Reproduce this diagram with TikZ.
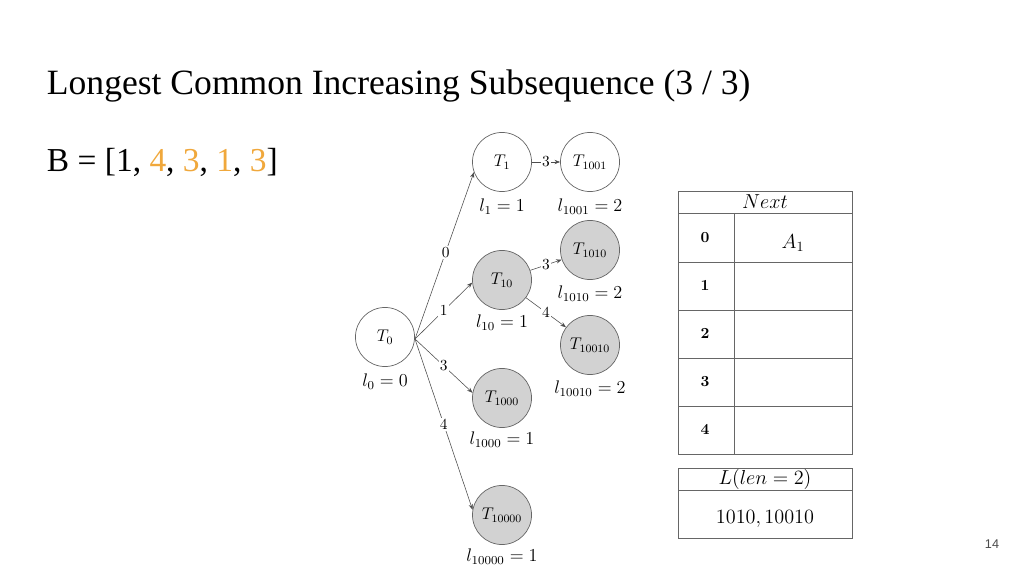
\documentclass[tikz,border=0pt]{standalone}
\usepackage{amsmath}
\usepackage[no-math]{fontspec}
\setmainfont{Liberation Serif}
\newfontfamily\pagefont{Liberation Sans}
\usepackage{xcolor}
\usetikzlibrary{arrows.meta,positioning}

\definecolor{hl}{HTML}{F0A83C}
\definecolor{trie}{HTML}{D2D2D2}

\begin{document}
\begin{tikzpicture}[
    x=0.025cm, y=-0.025cm,
    state/.style={circle, draw=black!60, line width=0.5pt, minimum size=42pt, inner sep=0pt, font=\fontsize{12}{14}\selectfont},
    live/.style={state, fill=trie},
    lenlbl/.style={scale=1.08, font=\fontsize{12}{14}\selectfont},
    edge/.style={draw=black!70, line width=0.4pt, -{Stealth[length=4pt,width=3pt]}},
    elbl/.style={fill=white, inner sep=1pt, font=\fontsize{10.95}{13}\selectfont},
    cell/.style={font=\fontsize{14.4}{16}\selectfont},
    keycell/.style={font=\fontsize{10.95}{13}\selectfont},
    grid/.style={draw=black!60, line width=0.5pt}
]
    \useasboundingbox (0,0) rectangle (1024,576);

    % Heading
    \node[anchor=base west, font=\fontsize{25.3}{29}\selectfont] (title) at (42,95) {Longest Common Increasing Subsequence (3 / 3)};
    \node[anchor=base west, font=\fontsize{23.8}{28}\selectfont] (seq) at (42,172)
        {B = [1, \textcolor{hl}{4}, \textcolor{hl}{3}, \textcolor{hl}{1}, \textcolor{hl}{3}]};

    % Trie nodes
    \node[state] (t0) at (385,337) {$T_0$};
    \node[state] (t1) at (502,162) {$T_1$};
    \node[state] (t1001) at (590,162) {$T_{1001}$};
    \node[live] (t10) at (502,280) {$T_{10}$};
    \node[live] (t1010) at (590,250) {$T_{1010}$};
    \node[live] (t10010) at (590,345) {$T_{10010}$};
    \node[live] (t1000) at (502,398) {$T_{1000}$};
    \node[live] (t10000) at (502,515) {$T_{10000}$};

    % Lengths
    \node[lenlbl] (l0) at (385,382) {$l_0 = 0$};
    \node[lenlbl] (l1) at (502,207) {$l_1 = 1$};
    \node[lenlbl] (l1001) at (590,207) {$l_{1001} = 2$};
    \node[lenlbl] (l10) at (502,323) {$l_{10} = 1$};
    \node[lenlbl] (l1010) at (590,294) {$l_{1010} = 2$};
    \node[lenlbl] (l10010) at (590,389) {$l_{10010} = 2$};
    \node[lenlbl] (l1000) at (502,440) {$l_{1000} = 1$};
    \node[lenlbl] (l10000) at (502,557) {$l_{10000} = 1$};

    % Edges
    \coordinate (hub) at (415,339);
    \draw[edge] (hub) -- node[elbl, pos=0.52] {$0$} (t1.200);
    \draw[edge] (hub) -- node[elbl, pos=0.5] {$1$} (t10.185);
    \draw[edge] (hub) -- node[elbl, pos=0.5] {$3$} (t1000.170);
    \draw[edge] (hub) -- node[elbl, pos=0.5] {$4$} (t10000.170);
    \draw[edge] (t1) -- node[elbl] {$3$} (t1001);
    \draw[edge] (t10) -- node[elbl] {$3$} (t1010);
    \draw[edge] (t10) -- node[elbl] {$4$} (t10010);

    % Next table
    \draw[grid] (678,191) rectangle (852,454);
    \draw[grid] (678,213) -- (852,213);
    \foreach \y in {262,310,358,406} \draw[grid] (678,\y) -- (852,\y);
    \draw[grid] (734,213) -- (734,454);
    \node[cell] (nexthd) at (765,202) {$Next$};
    \foreach \k/\y in {0/238,1/286,2/334,3/382,4/430}
        \node[keycell] (key\k) at (705,\y) {$\mathbf{\k}$};
    \node[cell] (val0) at (793,243) {$A_1$};

    % L table
    \draw[grid] (678,468) rectangle (852,538);
    \draw[grid] (678,490) -- (852,490);
    \node[cell] (lhd) at (765,479) {$L(len = 2)$};
    \node[cell] (lval) at (765,519) {$1010, 10010$};

    % Page number
    \node[font=\pagefont\fontsize{9}{11}\selectfont, text=black!70] (page) at (992,544) {14};
\end{tikzpicture}
\end{document}
